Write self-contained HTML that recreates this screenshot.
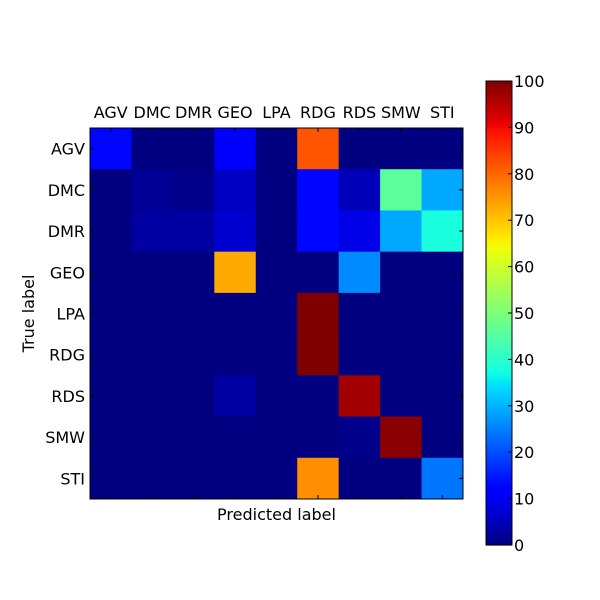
<!DOCTYPE html>
<html><head><meta charset="utf-8"><style>body{margin:0;background:#fff}svg{display:block;font-family:"DejaVu Sans","Liberation Sans",sans-serif}</style></head>
<body>
<svg id="c" width="600" height="600"></svg>
<script>
const labels=["AGV","DMC","DMR","GEO","LPA","RDG","RDS","SMW","STI"];
const rowAGV=[13,0,0,11,0,82,0,0,0];
const rowDMC=[0,2,1,6,0,13,5,46,29];
const rowDMR=[0,3,3,7,0,13,9,29,38];
const rowGEO=[0,0,0,73,0,0,26,0,0];
const rowLPA=[0,0,0,0,0,100,0,0,0];
const rowRDG=[0,0,0,0,0,100,0,0,0];
const rowRDS=[0,0,0,3,0,0,97,0,0];
const rowSMW=[0,0,0,0,0,0,1,99,0];
const rowSTI=[0,0,0,0,0,76,0,0,24];
const rows=[rowAGV,rowDMC,rowDMR,rowGEO,rowLPA,rowRDG,rowRDS,rowSMW,rowSTI];
const cbTicks=[0,10,20,30,40,50,60,70,80,90,100];
const vmax=100;
const NS="http://www.w3.org/2000/svg";
const svg=document.getElementById('c');
function mk(t,a,p){const e=document.createElementNS(NS,t);for(const k in a)e.setAttribute(k,a[k]);(p||svg).appendChild(e);return e;}
function seg(pts,x){for(let i=1;i<pts.length;i++){if(x<=pts[i][0]){const [x0,y0]=pts[i-1],[x1,y1]=pts[i];return y0+(y1-y0)*(x-x0)/(x1-x0);}}return pts[pts.length-1][1];}
const JR=[[0,0],[0.35,0],[0.66,1],[0.89,1],[1,0.5]];
const JG=[[0,0],[0.125,0],[0.375,1],[0.64,1],[0.91,0],[1,0]];
const JB=[[0,0.5],[0.11,1],[0.34,1],[0.65,0],[1,0]];
function jet(x){x=Math.max(0,Math.min(1,x));return `rgb(${Math.round(seg(JR,x)*255)},${Math.round(seg(JG,x)*255)},${Math.round(seg(JB,x)*255)})`;}
const X0=90,Y0=128,W=373,H=371,n=labels.length,cw=W/n,ch=H/n;
const xs=i=>X0+i*cw, ys=i=>Y0+i*ch;
rows.forEach((row,r)=>row.forEach((v,c)=>{
 const e=mk('rect',{x:xs(c),y:ys(r),width:cw+0.5,height:ch+0.5,fill:jet(v/vmax)});
 
 
}));
mk('rect',{x:X0,y:Y0,width:W,height:H,fill:'none',stroke:'#000','stroke-width':1,});
labels.forEach((l,i)=>{
 const cx=xs(i)+cw/2, cy=ys(i)+ch/2;
 mk('line',{x1:cx,x2:cx,y1:Y0,y2:Y0+4,stroke:'#000'});mk('line',{x1:cx,x2:cx,y1:Y0+H,y2:Y0+H-4,stroke:'#000'});
 mk('line',{x1:X0,x2:X0+4,y1:cy,y2:cy,stroke:'#000'});mk('line',{x1:X0+W,x2:X0+W-4,y1:cy,y2:cy,stroke:'#000'});
 const t=mk('text',{x:cx,y:Y0-10,'text-anchor':'middle','font-size':16});t.textContent=l;
 
 const u=mk('text',{x:X0-5,y:cy+6,'text-anchor':'end','font-size':16});u.textContent=l;
 
});
let t=mk('text',{x:X0+W/2,y:520,'text-anchor':'middle','font-size':16,});t.textContent='Predicted label';
t=mk('text',{x:34,y:Y0+H/2,'text-anchor':'middle','font-size':16,transform:`rotate(-90 34 ${Y0+H/2})`,});t.textContent='True label';
const CX=486,CY=81,CW=26,CH=464;
const cb=mk('g',{});
for(let i=0;i<232;i++){const v=i/232;mk('rect',{x:CX,y:CY+CH-(i+1)*CH/232,width:CW,height:CH/232+0.6,fill:jet(v+0.5/232)},cb);}
mk('rect',{x:CX,y:CY,width:CW,height:CH,fill:'none',stroke:'#000'},cb);
cbTicks.forEach(v=>{const y=CY+CH-v/vmax*CH;
 mk('line',{x1:CX+CW-4,x2:CX+CW,y1:y,y2:y,stroke:'#000'},cb);
 const e=mk('text',{x:CX+CW+2,y:y+6,'font-size':16},cb);e.textContent=v;
 
});
</script>
</body></html>
